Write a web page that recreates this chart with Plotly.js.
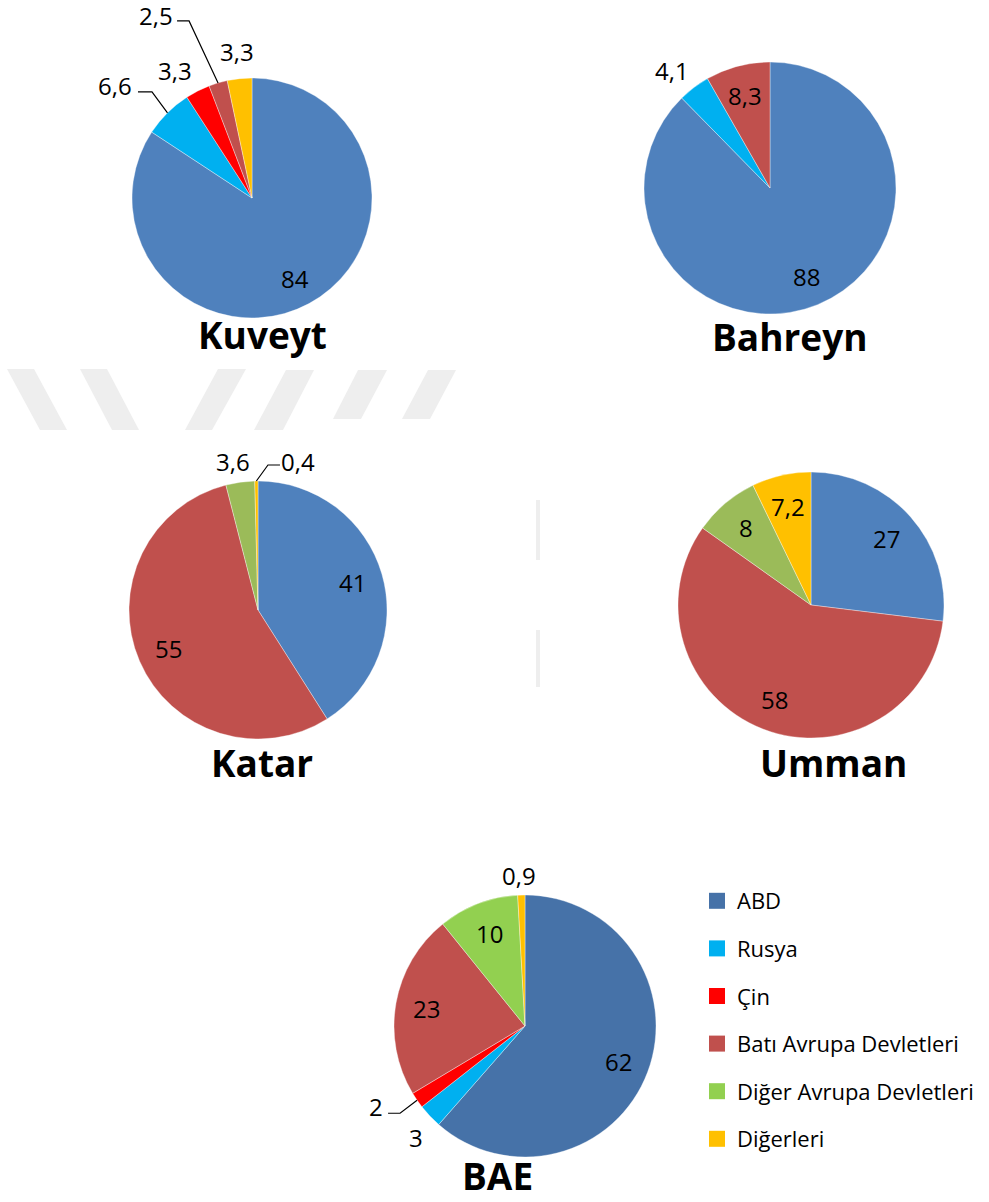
<!DOCTYPE html>
<html>
<head>
<meta charset="utf-8">
<script src="https://cdn.plot.ly/plotly-3.0.1.min.js"></script>
<style>html,body{margin:0;padding:0;background:#fff;}#chart{width:989px;height:1202px;}</style>
</head>
<body>
<div id="chart"></div>
<script>
// ---------------- DATA ----------------
const categories = ['ABD', 'Rusya', 'Çin', 'Batı Avrupa Devletleri', 'Diğer Avrupa Devletleri', 'Diğerleri'];

const kuveytLabels = ['ABD', 'Rusya', 'Çin', 'Batı Avrupa Devletleri', 'Diğerleri'];
const kuveytValues = [84, 6.6, 3.3, 2.5, 3.3];

const bahreynLabels = ['ABD', 'Rusya', 'Batı Avrupa Devletleri'];
const bahreynValues = [88, 4.1, 8.3];

const katarLabels = ['ABD', 'Batı Avrupa Devletleri', 'Diğer Avrupa Devletleri', 'Diğerleri'];
const katarValues = [41, 55, 3.6, 0.4];

const ummanLabels = ['ABD', 'Batı Avrupa Devletleri', 'Diğer Avrupa Devletleri', 'Diğerleri'];
const ummanValues = [27, 58, 8, 7.2];

const baeLabels = ['ABD', 'Rusya', 'Çin', 'Batı Avrupa Devletleri', 'Diğer Avrupa Devletleri', 'Diğerleri'];
const baeValues = [62, 3, 2, 23, 10, 0.9];

const countryNames = ['Kuveyt', 'Bahreyn', 'Katar', 'Umman', 'BAE'];

// ---------------- STYLE ----------------
const W = 989, H = 1202;
const FONT = '"Open Sans", "Noto Sans", Arial, sans-serif';
const paletteA = {
  'ABD': '#4F81BD', 'Rusya': '#00B0F0', 'Çin': '#FF0000',
  'Batı Avrupa Devletleri': '#C0504D', 'Diğer Avrupa Devletleri': '#9BBB59', 'Diğerleri': '#FFC000'
};
const paletteB = {
  'ABD': '#4672A8', 'Rusya': '#00B0F0', 'Çin': '#FF0000',
  'Batı Avrupa Devletleri': '#C0504D', 'Diğer Avrupa Devletleri': '#92D050', 'Diğerleri': '#FFC000'
};

// geometry of each pie (pixels) and its title position
const pies = [
  { name: countryNames[0], labels: kuveytLabels, values: kuveytValues, pal: paletteA,
    cx: 252, cy: 198, r: 120, tx: 262, ty: 335,
    place: ['in',
      { dx: -52.5, dy: -27, leader: [23, 6, 14] },
      { dx: -22.7, dy: -20 },
      { dx: -62, dy: -67, leader: [21, 5, 12] },
      { dx: -2.3, dy: -26.7 }] },
  { name: countryNames[1], labels: bahreynLabels, values: bahreynValues, pal: paletteA,
    cx: 770, cy: 188, r: 126, tx: 790, ty: 337,
    place: ['in', { dx: -22, dy: -17.5 }, 'in'] },
  { name: countryNames[2], labels: katarLabels, values: katarValues, pal: paletteA,
    cx: 258, cy: 610, r: 129, tx: 262, ty: 762,
    place: ['in', 'in', { dx: -7.3, dy: -21 }, { dx: 41.6, dy: -20, leader: [-18, 4, -12] }] },
  { name: countryNames[3], labels: ummanLabels, values: ummanValues, pal: paletteA,
    cx: 811, cy: 605, r: 133, tx: 833, ty: 762,
    place: ['in', 'in', 'in', 'in'] },
  { name: countryNames[4], labels: baeLabels, values: baeValues, pal: paletteB,
    cx: 525, cy: 1026, r: 131, tx: 497, ty: 1175,
    place: ['in', { dx: -14, dy: 21 }, { dx: -41, dy: 6, leader: [12, 7, 12] }, 'in', 'in', { dx: -2.3, dy: -20 }] }
];

const px = x => x / W;
const py = y => 1 - y / H;
const fmt = v => String(v).replace('.', ',');

const traces = [];
const annotations = [];
const shapes = [];

pies.forEach(p => {
  traces.push({
    type: 'pie',
    labels: p.labels,
    values: p.values,
    sort: false,
    direction: 'clockwise',
    rotation: 0,
    textinfo: 'none',
    hoverinfo: 'label+value',
    showlegend: false,
    marker: { colors: p.labels.map(l => p.pal[l]), line: { color: 'rgba(255,255,255,0.6)', width: 0.6 } },
    domain: { x: [px(p.cx - p.r), px(p.cx + p.r)], y: [py(p.cy + p.r), py(p.cy - p.r)] }
  });
  const total = p.values.reduce((a, b) => a + b, 0);
  let cum = 0;
  p.values.forEach((v, i) => {
    const th = 2 * Math.PI * (cum + v / 2) / total;
    cum += v;
    const s = Math.sin(th), c = Math.cos(th);
    const pl = p.place[i];
    let lx, ly;
    if (pl === 'in') {
      lx = p.cx + 0.76 * p.r * s;
      ly = p.cy - 0.76 * p.r * c;
    } else {
      const ex = p.cx + p.r * s, ey = p.cy - p.r * c;
      lx = ex + pl.dx; ly = ey + pl.dy;
      if (pl.leader) {
        const sx = lx + pl.leader[0], sy = ly + pl.leader[1];
        const hx = sx + pl.leader[2];
        shapes.push({
          type: 'path', xref: 'paper', yref: 'paper', layer: 'above',
          path: `M${px(sx)},${py(sy)} L${px(hx)},${py(sy)} L${px(ex)},${py(ey)}`,
          line: { color: '#000', width: 1.2 }
        });
      }
    }
    annotations.push({
      xref: 'paper', yref: 'paper', x: px(lx), y: py(ly),
      xanchor: 'center', yanchor: 'middle', showarrow: false,
      text: fmt(v), font: { family: FONT, size: 24, color: '#000' }
    });
  });
  annotations.push({
    xref: 'paper', yref: 'paper', x: px(p.tx), y: py(p.ty),
    xanchor: 'center', yanchor: 'middle', showarrow: false,
    text: '<b>' + p.name + '</b>', font: { family: FONT, size: 37, color: '#000' }
  });
});

// legend entries (one per category, colours of the BAE chart)
categories.forEach(cat => {
  traces.push({
    type: 'scatter', mode: 'markers', x: [null], y: [null],
    name: cat, legendgroup: cat, showlegend: true, hoverinfo: 'skip',
    marker: { symbol: 'square', size: 16, color: paletteB[cat] }
  });
});

// faint watermark stripes in the background
const stripes = [
  [[7, 369], [34, 369], [67, 430], [40, 430]],
  [[80, 369], [107, 369], [139, 430], [112, 430]],
  [[218, 369], [246, 369], [212, 430], [185, 430]],
  [[286, 370], [314, 370], [283, 430], [254, 430]],
  [[358, 370], [387, 370], [361, 419], [333, 419]],
  [[428, 370], [456, 370], [430, 419], [402, 419]],
  [[536, 500], [540, 500], [540, 560], [536, 560]],
  [[536, 630], [540, 630], [540, 687], [536, 687]]
];
stripes.forEach(poly => {
  shapes.push({
    type: 'path', xref: 'paper', yref: 'paper', layer: 'below',
    path: 'M' + poly.map(q => px(q[0]) + ',' + py(q[1])).join(' L') + ' Z',
    fillcolor: '#EEEEEE', line: { width: 0 }
  });
});

const layout = {
  width: W, height: H, autosize: false,
  margin: { l: 0, r: 0, t: 0, b: 0, pad: 0 },
  paper_bgcolor: '#fff', plot_bgcolor: 'rgba(0,0,0,0)',
  font: { family: FONT, color: '#000' },
  xaxis: { visible: false, domain: [0.99, 1] },
  yaxis: { visible: false, domain: [0.99, 1] },
  showlegend: true,
  legend: {
    x: px(697), xanchor: 'left', y: py(880), yanchor: 'top',
    font: { family: FONT, size: 22, color: '#000' },
    tracegroupgap: 16, bgcolor: 'rgba(0,0,0,0)', itemclick: false
  },
  annotations: annotations,
  shapes: shapes
};

Plotly.newPlot('chart', traces, layout, { displayModeBar: false, staticPlot: true });
</script>
</body>
</html>
